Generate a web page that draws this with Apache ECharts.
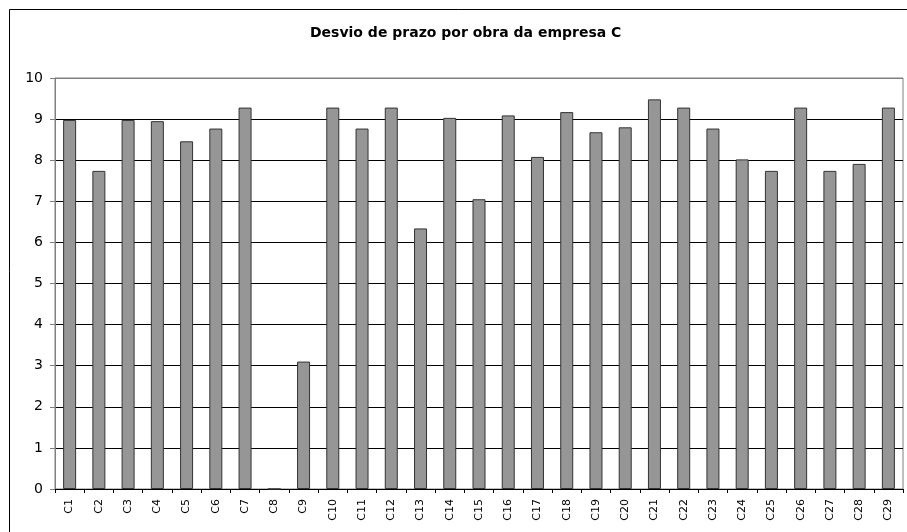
<!DOCTYPE html>
<html>
<head>
<meta charset="utf-8">
<script src="https://cdn.jsdelivr.net/npm/echarts@6/dist/echarts.min.js"></script>
<style>
  html, body { margin: 0; padding: 0; background: #fff; }
  #main { width: 907px; height: 532px; }
</style>
</head>
<body>
<div id="main"></div>
<script>
  var obras = ['C1','C2','C3','C4','C5','C6','C7','C8','C9','C10',
    'C11','C12','C13','C14','C15','C16','C17','C18','C19','C20',
    'C21','C22','C23','C24','C25','C26','C27','C28','C29'];

  var desvio = [8.98, 7.74, 8.98, 8.95, 8.46, 8.77, 9.28, 0, 3.1, 9.28,
    8.77, 9.28, 6.34, 9.03, 7.05, 9.09, 8.08, 9.17, 8.68, 8.80,
    9.48, 9.28, 8.77, 8.02, 7.74, 9.28, 7.74, 7.91, 9.28];

  var titulo = 'Desvio de prazo por obra da empresa C';

  var myChart = echarts.init(document.getElementById('main'), null, { renderer: 'canvas' });

  // linhas de grade pretas, a do topo cinza (borda da área)
  var gridColors = [];
  for (var i = 0; i < 10; i++) gridColors.push('#000');
  gridColors.push('#808080');

  var option = {
    backgroundColor: '#fff',
    animation: false,
    textStyle: { fontFamily: 'DejaVu Sans' },
    title: {
      text: titulo,
      left: 305,
      top: 21,
      textStyle: { fontSize: 14, fontWeight: 'bold', color: '#000', fontFamily: 'DejaVu Sans' }
    },
    graphic: [{
      type: 'rect',
      shape: { x: 9.5, y: 9.5, width: 910, height: 540 },
      style: { fill: 'none', stroke: '#000', lineWidth: 1 },
      silent: true
    }],
    grid: {
      left: 55,
      right: 4,
      top: 78,
      bottom: 43,
      show: true,
      borderColor: '#808080',
      borderWidth: 1
    },
    xAxis: {
      type: 'category',
      data: obras,
      boundaryGap: true,
      axisLine: { lineStyle: { color: '#000', width: 1 } },
      axisTick: { show: true, length: 4, alignWithLabel: false, lineStyle: { color: '#000' } },
      axisLabel: { rotate: 90, interval: 0, margin: 10, fontSize: 11, color: '#000', fontFamily: 'DejaVu Sans' }
    },
    yAxis: {
      type: 'value',
      min: 0,
      max: 10,
      interval: 1,
      axisLine: { show: true, lineStyle: { color: '#808080', width: 1 } },
      axisTick: { show: true, length: 5, lineStyle: { color: '#808080' } },
      axisLabel: { margin: 12, fontSize: 14, color: '#000', fontFamily: 'DejaVu Sans' },
      splitLine: { show: true, lineStyle: { color: gridColors, width: 1 } }
    },
    series: [{
      name: 'Desvio',
      type: 'bar',
      data: desvio,
      barWidth: 13,
      itemStyle: { color: '#969696', borderColor: '#333', borderWidth: 1 }
    }]
  };

  myChart.setOption(option);
</script>
</body>
</html>
